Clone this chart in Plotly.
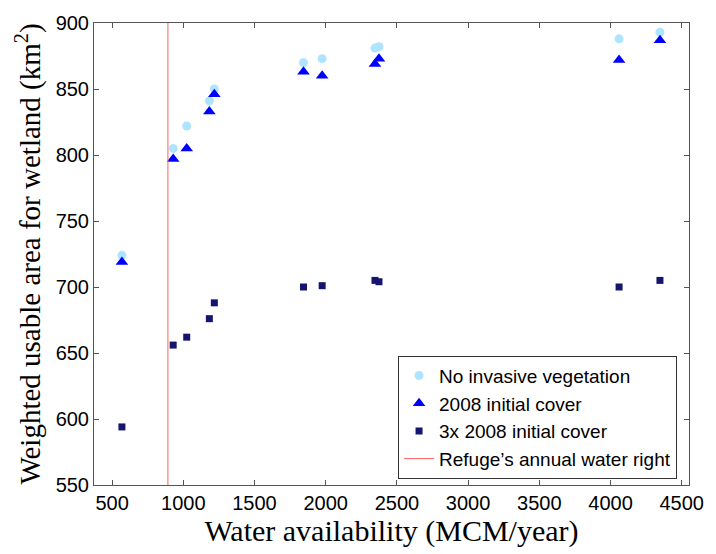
import plotly.graph_objects as go

water = [569, 929, 1024, 1183, 1218, 1844, 1975, 2346, 2374, 4060, 4347]
no_invasive = [724, 805, 822, 841, 850, 870, 873, 881, 882, 888, 893]
cover_2008 = [719, 797, 805, 833, 846, 863, 860, 869, 873, 872, 887]
cover_3x = [594, 656, 662, 676, 688, 700, 701, 705, 704, 700, 705]
water_right = 892

x_ticks = [500, 1000, 1500, 2000, 2500, 3000, 3500, 4000, 4500]
y_ticks = [550, 600, 650, 700, 750, 800, 850, 900]

fig = go.Figure()
fig.add_trace(go.Scatter(x=water, y=no_invasive, mode="markers", name="No invasive vegetation",
                         marker=dict(symbol="circle", size=9, color="#aee4ff")))
fig.add_trace(go.Scatter(x=water, y=cover_2008, mode="markers", name="2008 initial cover",
                         marker=dict(symbol="triangle-up", size=11, color="#0000ff")))
fig.add_trace(go.Scatter(x=water, y=cover_3x, mode="markers", name="3x 2008 initial cover",
                         marker=dict(symbol="square", size=7, color="#151570")))
fig.add_trace(go.Scatter(x=[water_right, water_right], y=[550, 900], mode="lines",
                         name="Refuge\u2019s annual water right",
                         line=dict(color="#ff6060", width=1)))

axis_common = dict(showline=True, linecolor="#555555", linewidth=1, mirror="allticks",
                   ticks="inside", ticklen=5, tickcolor="#555555", showgrid=False, zeroline=False,
                   tickfont=dict(family="Liberation Sans", size=20, color="black"))

fig.update_layout(
    width=716, height=554,
    margin=dict(l=94, r=18, t=23, b=69),
    plot_bgcolor="white", paper_bgcolor="white",
    showlegend=True,
    legend=dict(x=0.511, y=0.28, xanchor="left", yanchor="top",
                bordercolor="#333333", borderwidth=1, bgcolor="white",
                font=dict(family="Liberation Sans", size=19, color="black"),
                tracegroupgap=0),
    xaxis=dict(range=[373, 4551], tickvals=x_ticks,
               title=dict(text="Water availability (MCM/year)", standoff=6,
                          font=dict(family="Liberation Serif", size=30, color="black")),
               **axis_common),
    yaxis=dict(range=[550, 900], tickvals=y_ticks,
               title=dict(text="Weighted usable area for wetland (km<sup>2</sup>)", standoff=6,
                          font=dict(family="Liberation Serif", size=29, color="black")),
               **axis_common),
)

fig.write_html("out.html")
